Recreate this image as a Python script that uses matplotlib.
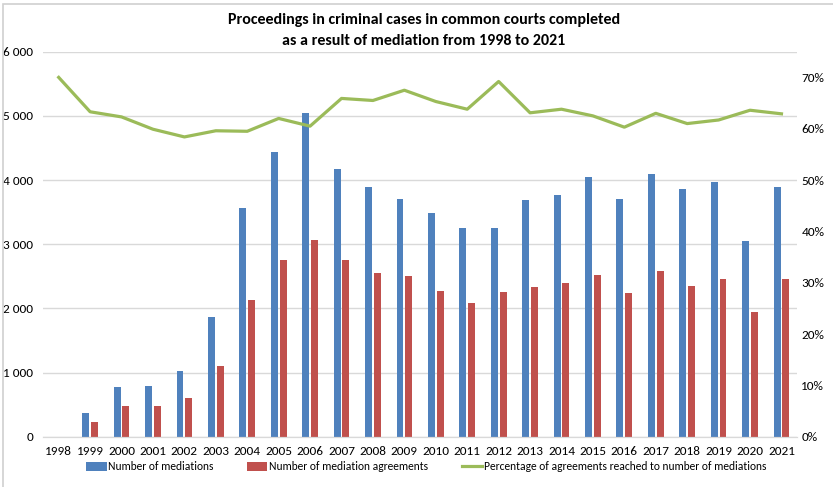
import numpy as np
import matplotlib
matplotlib.use("Agg")
import matplotlib.pyplot as plt
from matplotlib import font_manager
from matplotlib.patches import Rectangle
from matplotlib.ticker import FuncFormatter, PercentFormatter

# pick a narrow, Calibri-like face if one is around
installed = {f.name for f in font_manager.fontManager.ttflist}
base = "Liberation Sans"
for cand in ["Carlito", "Liberation Sans Narrow", "Roboto Condensed"]:
    if cand in installed:
        base = cand
        break
narrow = base != "Liberation Sans"
plt.rcParams['font.family'] = [base, 'DejaVu Sans']

years = [str(y) for y in range(1998, 2022)]
mediations = [0, 364, 769, 784, 1023, 1860, 3569, 4437, 5050, 4172, 3891, 3709,
              3481, 3252, 3252, 3694, 3772, 4047, 3709, 4094, 3855, 3969, 3044, 3891]
agreements = [0, 234, 483, 473, 597, 1107, 2125, 2753, 3060, 2753, 2546, 2499,
              2270, 2078, 2255, 2333, 2400, 2525, 2239, 2582, 2353, 2457, 1938, 2452]
pct = [70.0, 63.3, 62.3, 59.9, 58.4, 59.6, 59.5, 62.0, 60.5, 65.9, 65.5, 67.5,
       65.3, 63.8, 69.2, 63.1, 63.8, 62.5, 60.3, 63.0, 61.0, 61.7, 63.6, 62.9]

c_blue = "#4F81BD"
c_red = "#C0504D"
c_green = "#9BBB59"
grid_c = "#D9D9D9"

tick_fs = 9.5 if narrow else 8.5
leg_fs = 8.3 if narrow else 7.9
title_fs = 11.5 if narrow else 10.2

fig = plt.figure(figsize=(8.33, 4.87), dpi=100)
# chart-area border (left and top edges visible in the reference)
fig.patches.append(Rectangle((3 / 833, -0.1), 1.2, 1.1 - 4 / 487, transform=fig.transFigure,
                             fill=False, edgecolor="#D0D0D0", lw=1.2))
ax = fig.add_axes([0.0516, 0.1033, 0.9054, 0.7905])
ax2 = ax.twinx()

x = np.arange(len(years))
w = 0.22
ax.bar(x - 0.14, mediations, w, color=c_blue, label="Number of mediations", zorder=2)
ax.bar(x + 0.14, agreements, w, color=c_red, label="Number of mediation agreements", zorder=2)
ax2.plot(x, np.array(pct) / 100, color=c_green, lw=2.3,
         label="Percentage of agreements reached to number of mediations")

ax.set_xlim(-0.5, len(years) - 0.5)
ax.set_ylim(0, 6000)
ax.set_yticks(range(0, 6001, 1000))
ax.yaxis.set_major_formatter(FuncFormatter(lambda v, p: f"{int(v):,}".replace(",", " ")))
ax.grid(axis="y", color=grid_c, lw=1, zorder=0)
ax.set_axisbelow(True)
ax.set_xticks(x)
ax.set_xticklabels(years)

ax2.set_ylim(0, 0.75)
ax2.set_yticks(np.arange(0, 0.71, 0.1))
ax2.yaxis.set_major_formatter(PercentFormatter(1.0, decimals=0))

for a in (ax, ax2):
    for s in ("top", "left", "right"):
        a.spines[s].set_visible(False)
    a.spines["bottom"].set_color(grid_c)
    a.tick_params(length=0, labelsize=tick_fs, colors="#000000")
ax.tick_params(axis="y", pad=7)
ax.tick_params(axis="x", pad=7)
ax2.tick_params(axis="y", pad=3)

fig.text(0.509, 1 - 20 / 487, "Proceedings in criminal cases in common courts completed",
         ha="center", va="center", fontsize=title_fs, fontweight="bold")
fig.text(0.509, 1 - 41 / 487, "as a result of mediation from 1998 to 2021",
         ha="center", va="center", fontsize=title_fs, fontweight="bold")

h1, l1 = ax.get_legend_handles_labels()
h2, l2 = ax2.get_legend_handles_labels()
fig.legend(h1 + h2, l1 + l2, loc="center", bbox_to_anchor=(0.512, 1 - 467 / 487),
           ncol=3, frameon=False, fontsize=leg_fs, handlelength=1.74, handleheight=0.75,
           columnspacing=2.9, handletextpad=0.17, borderaxespad=0, borderpad=0)

fig.savefig("out.png", dpi=100)
